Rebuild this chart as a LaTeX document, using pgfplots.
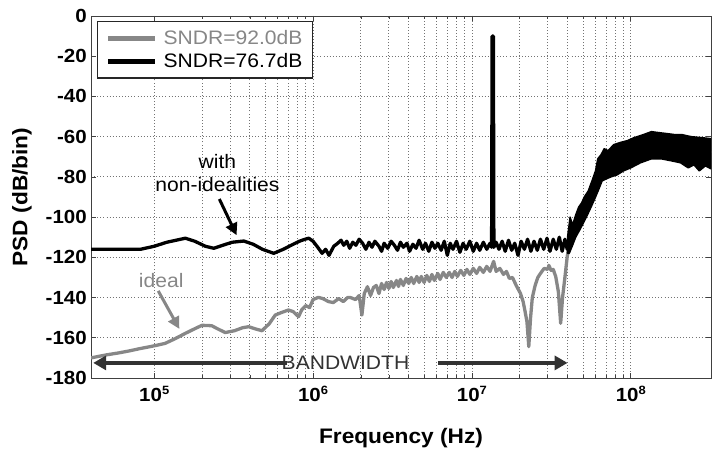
\documentclass[border=0pt]{standalone}
\usepackage{pgfplots}
\pgfplotsset{compat=1.18}
\usetikzlibrary{arrows.meta}
\usepackage{fontspec}
\setmainfont{Liberation Sans}[FakeStretch=1.08]
\definecolor{idealgray}{RGB}{135,135,135}
\definecolor{bwgray}{RGB}{50,50,50}
\begin{document}
\begin{tikzpicture}
\path[use as bounding box] (-91pt,-84pt) rectangle (624pt,378pt);
\begin{axis}[
  scale only axis, width=620pt, height=362pt,
  xmode=log, xmin=4e4, xmax=3.2e8, ymin=-180, ymax=0,
  xtick={1e5,1e6,1e7,1e8},
  xticklabels={{10\raisebox{7pt}{\fontsize{12}{12}\selectfont\bfseries 5}},
               {10\raisebox{7pt}{\fontsize{12}{12}\selectfont\bfseries 6}},
               {10\raisebox{7pt}{\fontsize{12}{12}\selectfont\bfseries 7}},
               {10\raisebox{7pt}{\fontsize{12}{12}\selectfont\bfseries 8}}},
  ytick={-180,-160,-140,-120,-100,-80,-60,-40,-20,0},
  yticklabels={-180,-160,-140,-120,-100,-80,-60,-40,-20,0},
  tick label style={font=\fontsize{19}{21}\selectfont\bfseries},
  yticklabel style={inner sep=0pt, xshift=-4pt},
  xticklabel style={inner sep=0pt, yshift=-8pt},
  xmajorgrids, xminorgrids, ymajorgrids,
  major grid style={dash pattern=on 0.9pt off 2.2pt, black!55, line width=0.8pt},
  minor grid style={dash pattern=on 0.9pt off 2.2pt, black!55, line width=0.8pt},
  axis line style={black!75, line width=0.9pt},
  tick align=inside, tick pos=both, tick style={black!75, line width=0.7pt},
  major tick length=5pt, minor tick length=3pt,
  xlabel={Frequency (Hz)}, ylabel={PSD (dB/bin)},
  label style={font=\fontsize{21}{24}\selectfont\bfseries},
  xlabel style={at={(axis description cs:0.5,-0.1657)}, anchor=center},
  ylabel style={at={(axis description cs:-0.1113,0.5)}, anchor=center, rotate=0},
  legend style={at={(axis description cs:0.00968,0.9862)}, anchor=north west,
    draw=black!85, line width=1.3pt, fill=white,
    font=\fontsize{19.5}{22}\selectfont, inner xsep=8pt, inner ysep=7pt,
    row sep=3pt, column sep=4pt},
  legend cell align=left,
  legend image code/.code={\draw[#1, line width=5pt] (0pt,0pt) -- (47pt,0pt);},
]
% ideal (gray)
\addplot[idealgray, line width=3.3pt, line join=round] coordinates {
(4e4,-170) (5e4,-168.5) (6e4,-167.5) (7e4,-166.5) (8e4,-165.5) (1e5,-164)
(1.17e5,-162.8) (1.35e5,-160.5) (1.57e5,-157.8) (1.8e5,-155.5) (2.0e5,-153.8)
(2.3e5,-154) (2.5e5,-155.5) (2.8e5,-157.4) (3.2e5,-156.5) (3.6e5,-155)
(3.93e5,-154.5) (4.3e5,-155.5) (4.77e5,-156.5) (5.3e5,-153) (5.78e5,-148.7)
(6.3e5,-147.5) (7.0e5,-146.2) (7.5e5,-147) (8.1e5,-149.5) (8.5e5,-146)
(9.0e5,-144) (9.5e5,-145) (1.0e6,-141) (1.08e6,-139.9) (1.15e6,-140.5)
(1.25e6,-142) (1.34e6,-142.5) (1.45e6,-140.5) (1.55e6,-142) (1.65e6,-140)
(1.72e6,-140) (1.85e6,-141) (1.95e6,-139) (2.03e6,-148.7) (2.1e6,-138)
(2.2e6,-134.6) (2.3e6,-139) (2.4e6,-135) (2.5e6,-134) (2.6e6,-138) (2.7e6,-133)
(2.8e6,-136) (2.9e6,-132.5) (3.0e6,-135.5) (3.1e6,-132) (3.2e6,-135) (3.35e6,-131.5)
(3.45e6,-134.5) (3.55e6,-131) (3.7e6,-134) (3.85e6,-130.5) (4.0e6,-133)
(4.15e6,-130) (4.3e6,-133) (4.5e6,-129.5) (4.65e6,-132.5) (4.8e6,-129.5)
(5.0e6,-132.5) (5.2e6,-129) (5.4e6,-132) (5.6e6,-128.5) (5.8e6,-131.5)
(6.1e6,-128) (6.3e6,-131) (6.6e6,-127.5) (6.9e6,-130) (7.2e6,-127.5)
(7.5e6,-130) (7.8e6,-127) (8.1e6,-129.5) (8.5e6,-126.5) (8.9e6,-129)
(9.3e6,-126) (9.7e6,-128.5) (1.02e7,-125.5) (1.07e7,-128) (1.12e7,-125)
(1.18e7,-127.5) (1.24e7,-124.5) (1.3e7,-127) (1.37e7,-122) (1.42e7,-127)
(1.5e7,-125.5) (1.58e7,-128.5) (1.65e7,-127) (1.72e7,-130.5) (1.8e7,-130)
(1.9e7,-134) (2.02e7,-137.9) (2.1e7,-142) (2.15e7,-146) (2.22e7,-152) (2.28e7,-164.4) (2.34e7,-150)
(2.4e7,-140) (2.5e7,-134) (2.6e7,-130) (2.7e7,-128) (2.85e7,-125.5) (3.0e7,-126)
(3.05e7,-124) (3.15e7,-126.5) (3.25e7,-126) (3.37e7,-129.6) (3.5e7,-137) (3.62e7,-152.8) (3.72e7,-140)
(3.85e7,-130) (3.98e7,-119.7) (4.2e7,-108) (5e7,-97) (6e7,-85) (7e7,-75)
(9e7,-70) (1.26e8,-66) (2e8,-67) (3.2e8,-68)
};
\addlegendentry{\textcolor{idealgray}{SNDR=92.0dB}}
% with non-idealities (black)
\addplot[black, line width=3.3pt, line join=round] coordinates {
(4e4,-116) (6e4,-116) (8.2e4,-116) (1e5,-114.5) (1.2e5,-112.5) (1.57e5,-110.5)
(1.8e5,-112) (2.1e5,-114.5) (2.37e5,-115.5) (2.7e5,-114) (3.1e5,-112.5)
(3.66e5,-111.9) (4.2e5,-113.5) (4.8e5,-116) (5.65e5,-118) (6.5e5,-116)
(7.5e5,-113.5) (8.2e5,-112) (8.9e5,-111) (9.4e5,-110.5) (1.0e6,-112)
(1.07e6,-115) (1.14e6,-118) (1.2e6,-116) (1.26e6,-119) (1.35e6,-114.5)
(1.43e6,-113) (1.5e6,-111.5) (1.56e6,-114) (1.63e6,-112) (1.7e6,-115.5)
(1.78e6,-112.5) (1.86e6,-114) (1.95e6,-111) (2.05e6,-113) (2.15e6,-116)
(2.25e6,-112.5) (2.35e6,-115) (2.45e6,-112) (2.6e6,-114.5) (2.7e6,-117)
(2.8e6,-113) (2.95e6,-115.5) (3.1e6,-112) (3.25e6,-114) (3.4e6,-116.5)
(3.55e6,-112.5) (3.7e6,-115) (3.9e6,-113) (4.05e6,-117) (4.25e6,-113.5)
(4.45e6,-115.5) (4.65e6,-111.5) (4.9e6,-116) (5.1e6,-113) (5.35e6,-117)
(5.6e6,-112.5) (5.85e6,-115.5) (6.1e6,-113) (6.4e6,-116.5) (6.7e6,-112)
(7.0e6,-119) (7.3e6,-113) (7.6e6,-116) (8.0e6,-112) (8.4e6,-117.5)
(8.8e6,-113) (9.2e6,-116) (9.7e6,-112) (1.02e7,-117) (1.07e7,-113)
(1.12e7,-116.5) (1.18e7,-112.5) (1.24e7,-116) (1.3e7,-113) (1.33e7,-115)
(1.34e7,-10) (1.365e7,-10) (1.375e7,-115) (1.42e7,-112.5) (1.48e7,-116)
(1.55e7,-112) (1.62e7,-117) (1.7e7,-111.5) (1.78e7,-116.5) (1.86e7,-113)
(1.95e7,-119) (2.04e7,-112) (2.14e7,-116) (2.24e7,-111) (2.35e7,-117)
(2.46e7,-112) (2.58e7,-116.5) (2.7e7,-111) (2.83e7,-116) (2.97e7,-110.5)
(3.1e7,-117) (3.25e7,-111) (3.4e7,-116) (3.55e7,-110) (3.7e7,-117)
(3.85e7,-111) (3.98e7,-116) (4.1e7,-112)
};
\addlegendentry{SNDR=76.7dB}
% high-frequency noise band of the black trace
\addplot[black, fill=black, line width=1.5pt, line join=round, forget plot] coordinates {
(4.0e7,-110) (4.15e7,-100) (4.3e7,-104) (4.5e7,-99) (4.7e7,-95) (4.9e7,-93)
(5.1e7,-90) (5.4e7,-87) (5.7e7,-82) (6.0e7,-77) (6.2e7,-71) (6.5e7,-69)
(6.8e7,-66) (7.2e7,-67) (7.8e7,-64) (8.5e7,-63) (9.5e7,-62) (1.05e8,-60.5)
(1.2e8,-59) (1.35e8,-57.5) (1.5e8,-58) (1.7e8,-58.5) (1.9e8,-59) (2.1e8,-59)
(2.4e8,-60) (2.8e8,-60.5) (3.2e8,-61)
(3.2e8,-76) (2.95e8,-74.5) (2.7e8,-77) (2.5e8,-74) (2.3e8,-75.5) (2.06e8,-73)
(1.8e8,-72) (1.55e8,-71) (1.35e8,-71) (1.15e8,-73) (1.0e8,-75.5) (9.0e7,-77)
(8.2e7,-79) (7.5e7,-80) (7.0e7,-81) (6.6e7,-82) (6.3e7,-86) (6.0e7,-90)
(5.7e7,-94) (5.4e7,-98) (5.1e7,-102) (4.8e7,-106) (4.5e7,-110) (4.3e7,-114)
(4.1e7,-118) (4.0e7,-118) (4.0e7,-110)
};
% annotations
\node[align=center, font=\fontsize{19.5}{23}\selectfont] at (axis cs:2.5e5,-78) {with\\non-idealities};
\draw[black, line width=3pt, -{Triangle[length=12pt,width=12pt]}] (axis cs:2.57e5,-91) -- (axis cs:3.3e5,-109);
\node[idealgray, font=\fontsize{19.5}{23}\selectfont] at (axis cs:1.107e5,-131.3) {ideal};
\draw[idealgray, line width=3pt, -{Triangle[length=12pt,width=12pt]}] (axis cs:1.06e5,-136.7) -- (axis cs:1.44e5,-155.6);
\node[bwgray, font=\fontsize{19.5}{23}\selectfont] at (axis cs:1.6e6,-172.3) {BANDWIDTH};
\draw[bwgray, line width=4.5pt, -{Triangle[length=13pt,width=14pt]}] (axis cs:6.89e5,-172.5) -- (axis cs:4.13e4,-172.5);
\draw[bwgray, line width=4.5pt, -{Triangle[length=13pt,width=14pt]}] (axis cs:6.16e6,-172.5) -- (axis cs:4.0e7,-172.5);
\end{axis}
\end{tikzpicture}
\end{document}
